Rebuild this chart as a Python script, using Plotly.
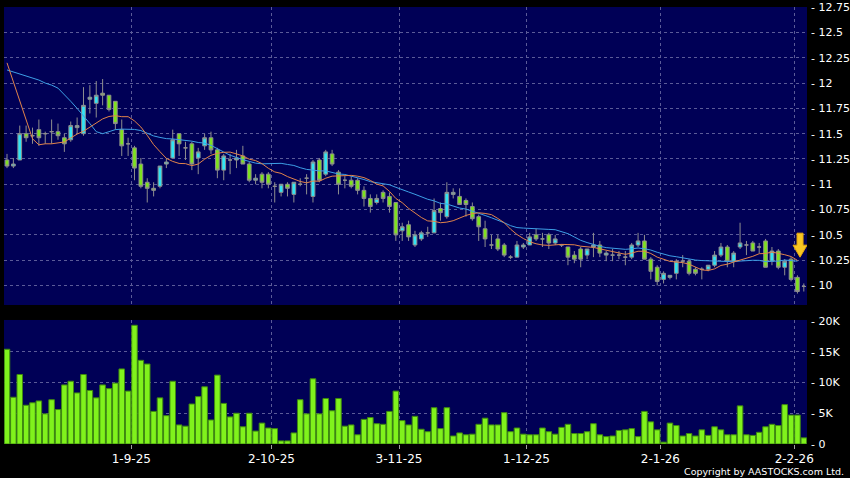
import plotly.graph_objects as go

# ---------------- data ----------------
dates = [
    "2025-08-04", "2025-08-05", "2025-08-06", "2025-08-07", "2025-08-08",
    "2025-08-11", "2025-08-12", "2025-08-13", "2025-08-14", "2025-08-15",
    "2025-08-18", "2025-08-19", "2025-08-20", "2025-08-21", "2025-08-22",
    "2025-08-25", "2025-08-26", "2025-08-27", "2025-08-28", "2025-08-29",
    "2025-09-01", "2025-09-02", "2025-09-03", "2025-09-04", "2025-09-05",
    "2025-09-08", "2025-09-09", "2025-09-10", "2025-09-11", "2025-09-12",
    "2025-09-15", "2025-09-16", "2025-09-17", "2025-09-18", "2025-09-19",
    "2025-09-22", "2025-09-23", "2025-09-24", "2025-09-25", "2025-09-26",
    "2025-09-29", "2025-09-30", "2025-10-02", "2025-10-03", "2025-10-06",
    "2025-10-08", "2025-10-09", "2025-10-10", "2025-10-13", "2025-10-14",
    "2025-10-15", "2025-10-16", "2025-10-17", "2025-10-20", "2025-10-21",
    "2025-10-22", "2025-10-23", "2025-10-24", "2025-10-27", "2025-10-28",
    "2025-10-30", "2025-10-31", "2025-11-03", "2025-11-04", "2025-11-05",
    "2025-11-06", "2025-11-07", "2025-11-10", "2025-11-11", "2025-11-12",
    "2025-11-13", "2025-11-14", "2025-11-17", "2025-11-18", "2025-11-19",
    "2025-11-20", "2025-11-21", "2025-11-24", "2025-11-25", "2025-11-26",
    "2025-11-27", "2025-11-28", "2025-12-01", "2025-12-02", "2025-12-03",
    "2025-12-04", "2025-12-05", "2025-12-08", "2025-12-09", "2025-12-10",
    "2025-12-11", "2025-12-12", "2025-12-15", "2025-12-16", "2025-12-17",
    "2025-12-18", "2025-12-19", "2025-12-22", "2025-12-23", "2025-12-24",
    "2025-12-29", "2025-12-30", "2025-12-31", "2026-01-02", "2026-01-05",
    "2026-01-06", "2026-01-07", "2026-01-08", "2026-01-09", "2026-01-12",
    "2026-01-13", "2026-01-14", "2026-01-15", "2026-01-16", "2026-01-19",
    "2026-01-20", "2026-01-21", "2026-01-22", "2026-01-23", "2026-01-26",
    "2026-01-27", "2026-01-28", "2026-01-29", "2026-01-30", "2026-02-02",
    "2026-02-03",
]

open_ = [
    11.24, 11.18, 11.24, 11.50, 11.48, 11.54, 11.50, 11.52, 11.52, 11.46,
    11.44, 11.56, 11.50, 11.84, 11.80, 11.90, 11.88, 11.82, 11.54, 11.40,
    11.36, 11.20, 11.02, 10.96, 10.98, 11.20, 11.26, 11.50, 11.36, 11.40,
    11.26, 11.38, 11.46, 11.34, 11.14, 11.24, 11.24, 11.28, 11.20, 11.04,
    11.10, 11.10, 10.98, 10.92, 11.00, 10.90, 11.00, 11.06, 10.88, 11.24,
    11.10, 11.30, 11.12, 11.04, 11.04, 11.04, 10.94, 10.86, 10.82, 10.92,
    10.88, 10.82, 10.54, 10.60, 10.40, 10.46, 10.52, 10.52, 10.76, 10.68,
    10.90, 10.88, 10.84, 10.78, 10.68, 10.56, 10.40, 10.46, 10.40, 10.28,
    10.28, 10.38, 10.40, 10.50, 10.46, 10.50, 10.42, 10.40, 10.38, 10.30,
    10.36, 10.30, 10.38, 10.40, 10.30, 10.30, 10.30, 10.28, 10.28, 10.40,
    10.44, 10.26, 10.18, 10.06, 10.08, 10.12, 10.24, 10.24, 10.16, 10.16,
    10.16, 10.20, 10.30, 10.38, 10.24, 10.38, 10.40, 10.42, 10.38, 10.44,
    10.24, 10.34, 10.18, 10.26, 10.08, 9.99,
]
high = [
    11.30, 11.26, 11.58, 11.58, 11.56, 11.64, 11.52, 11.64, 11.60, 11.50,
    11.62, 11.66, 11.96, 11.98, 12.02, 12.04, 11.88, 11.82, 11.64, 11.46,
    11.38, 11.26, 11.06, 11.02, 11.18, 11.26, 11.54, 11.50, 11.42, 11.42,
    11.36, 11.50, 11.52, 11.36, 11.30, 11.30, 11.34, 11.38, 11.22, 11.10,
    11.12, 11.12, 11.02, 11.00, 11.02, 11.02, 11.06, 11.10, 11.24, 11.26,
    11.34, 11.34, 11.14, 11.08, 11.08, 11.06, 10.98, 10.90, 10.90, 10.94,
    10.92, 10.82, 10.62, 10.64, 10.54, 10.54, 10.58, 10.86, 10.82, 11.02,
    10.96, 10.96, 10.86, 10.82, 10.70, 10.64, 10.50, 10.50, 10.42, 10.30,
    10.44, 10.42, 10.52, 10.56, 10.52, 10.52, 10.50, 10.40, 10.38, 10.34,
    10.38, 10.36, 10.52, 10.44, 10.34, 10.36, 10.34, 10.34, 10.42, 10.52,
    10.50, 10.28, 10.20, 10.14, 10.10, 10.26, 10.30, 10.26, 10.18, 10.18,
    10.20, 10.34, 10.42, 10.40, 10.34, 10.62, 10.44, 10.44, 10.42, 10.46,
    10.38, 10.36, 10.26, 10.28, 10.10, 10.02,
]
low = [
    11.16, 11.16, 11.24, 11.42, 11.40, 11.38, 11.40, 11.40, 11.44, 11.32,
    11.42, 11.50, 11.48, 11.70, 11.66, 11.78, 11.72, 11.54, 11.28, 11.28,
    11.04, 10.96, 10.82, 10.88, 10.96, 11.16, 11.26, 11.28, 11.24, 11.14,
    11.10, 11.34, 11.30, 11.06, 11.04, 11.10, 11.16, 11.20, 11.02, 11.00,
    10.96, 10.96, 10.82, 10.88, 10.88, 10.82, 10.98, 10.90, 10.82, 11.02,
    11.08, 11.18, 10.90, 10.96, 10.96, 10.90, 10.78, 10.72, 10.80, 10.82,
    10.72, 10.44, 10.44, 10.44, 10.38, 10.44, 10.48, 10.52, 10.64, 10.66,
    10.86, 10.80, 10.68, 10.64, 10.44, 10.38, 10.36, 10.34, 10.28, 10.26,
    10.28, 10.36, 10.40, 10.44, 10.38, 10.36, 10.40, 10.38, 10.20, 10.22,
    10.18, 10.26, 10.28, 10.28, 10.24, 10.24, 10.26, 10.20, 10.26, 10.38,
    10.26, 10.06, 10.00, 10.02, 10.06, 10.06, 10.18, 10.10, 10.10, 10.06,
    10.14, 10.18, 10.28, 10.18, 10.18, 10.36, 10.30, 10.34, 10.32, 10.18,
    10.20, 10.16, 10.10, 10.04, 9.92, 9.94,
]
close = [
    11.18, 11.20, 11.50, 11.46, 11.48, 11.46, 11.50, 11.52, 11.48, 11.40,
    11.58, 11.58, 11.78, 11.86, 11.88, 11.88, 11.74, 11.60, 11.38, 11.40,
    11.16, 10.98, 10.96, 10.94, 11.18, 11.22, 11.44, 11.40, 11.36, 11.20,
    11.32, 11.46, 11.34, 11.14, 11.28, 11.24, 11.26, 11.20, 11.04, 11.06,
    11.02, 11.00, 10.98, 11.00, 10.96, 11.02, 11.00, 11.06, 11.22, 11.04,
    11.32, 11.20, 11.00, 11.04, 10.98, 10.94, 10.86, 10.78, 10.86, 10.86,
    10.78, 10.50, 10.58, 10.48, 10.50, 10.52, 10.52, 10.74, 10.72, 10.92,
    10.92, 10.80, 10.80, 10.66, 10.58, 10.46, 10.40, 10.36, 10.30, 10.28,
    10.40, 10.40, 10.48, 10.46, 10.46, 10.42, 10.46, 10.40, 10.28, 10.26,
    10.26, 10.36, 10.40, 10.32, 10.32, 10.30, 10.30, 10.28, 10.40, 10.44,
    10.26, 10.14, 10.04, 10.12, 10.10, 10.24, 10.24, 10.12, 10.12, 10.16,
    10.20, 10.30, 10.38, 10.24, 10.32, 10.42, 10.40, 10.34, 10.38, 10.18,
    10.34, 10.18, 10.24, 10.06, 9.94, 9.99,
]

# 10-day and 20-day moving averages as drawn on the chart (last day has none)
ma10 = [
    12.20, 12.01, 11.83, 11.64, 11.45, 11.39, 11.40, 11.40, 11.41,
    11.418, 11.458, 11.496, 11.524, 11.564, 11.604, 11.646, 11.670, 11.678, 11.668, 11.668,
    11.626, 11.566, 11.484, 11.392, 11.322, 11.256, 11.226, 11.206, 11.204, 11.184,
    11.200, 11.248, 11.286, 11.306, 11.316, 11.318, 11.300, 11.280, 11.248, 11.234,
    11.204, 11.158, 11.122, 11.108, 11.076, 11.054, 11.028, 11.014, 11.032, 11.030,
    11.060, 11.080, 11.082, 11.086, 11.088, 11.080, 11.066, 11.038, 11.002, 10.984,
    10.930, 10.860, 10.818, 10.762, 10.714, 10.672, 10.638, 10.634, 10.620, 10.626,
    10.640, 10.670, 10.692, 10.710, 10.718, 10.712, 10.700, 10.662, 10.620, 10.556,
    10.504, 10.464, 10.432, 10.412, 10.400, 10.396, 10.402, 10.406, 10.404, 10.402,
    10.388, 10.384, 10.376, 10.362, 10.348, 10.336, 10.320, 10.308, 10.320, 10.338,
    10.338, 10.316, 10.280, 10.260, 10.238, 10.232, 10.226, 10.210, 10.182, 10.154,
    10.148, 10.164, 10.198, 10.210, 10.232, 10.250, 10.266, 10.288, 10.314, 10.316,
    10.330, 10.318, 10.304, 10.286, 10.248,
]
ma20 = [
    12.13, 12.11, 12.09, 12.07, 12.05, 12.03, 12.00, 11.98, 11.95, 11.89,
    11.82, 11.75, 11.68, 11.60, 11.52, 11.50, 11.52, 11.54, 11.545, 11.543,
    11.542, 11.531, 11.504, 11.478, 11.463, 11.451, 11.448, 11.442, 11.436, 11.426,
    11.413, 11.407, 11.385, 11.349, 11.319, 11.287, 11.263, 11.243, 11.226, 11.209,
    11.202, 11.203, 11.204, 11.207, 11.196, 11.186, 11.164, 11.147, 11.140, 11.132,
    11.132, 11.119, 11.102, 11.097, 11.082, 11.067, 11.047, 11.026, 11.017, 11.007,
    10.995, 10.970, 10.950, 10.924, 10.901, 10.876, 10.852, 10.836, 10.811, 10.805,
    10.785, 10.765, 10.755, 10.736, 10.716, 10.692, 10.669, 10.648, 10.620, 10.591,
    10.572, 10.567, 10.562, 10.561, 10.559, 10.554, 10.551, 10.534, 10.512, 10.479,
    10.446, 10.424, 10.404, 10.387, 10.374, 10.366, 10.361, 10.357, 10.362, 10.370,
    10.363, 10.350, 10.328, 10.311, 10.293, 10.284, 10.273, 10.259, 10.251, 10.246,
    10.243, 10.240, 10.239, 10.235, 10.235, 10.241, 10.246, 10.249, 10.248, 10.235,
    10.239, 10.241, 10.251, 10.248, 10.240,
]

volume = [
    15400, 7600, 11300, 6300, 6700, 7000, 4900, 7200, 5600, 9600,
    10200, 8300, 11300, 8700, 7500, 9600, 9000, 9900, 12200, 8600,
    19300, 13600, 13000, 5300, 7500, 4600, 10200, 3100, 2900, 6500,
    7700, 9300, 3900, 11200, 6600, 4400, 5000, 2800, 5000, 2100,
    3400, 2600, 2500, 500, 500, 1800, 7200, 4900, 10600, 4900,
    7400, 5400, 7400, 2900, 3100, 1500, 4000, 4300, 3300, 3200,
    5300, 8600, 3800, 3100, 4500, 2400, 2000, 5900, 2500, 5900,
    1300, 1800, 1500, 1600, 3200, 4200, 3100, 3100, 5100, 2000,
    2600, 1600, 1500, 1500, 2600, 2000, 1600, 2700, 3200, 1700,
    1700, 2000, 3300, 1500, 1200, 1300, 2200, 2300, 2500, 1200,
    5300, 3600, 2300, 300, 3400, 3000, 1300, 1700, 1300, 2300,
    1400, 2800, 2300, 1500, 1500, 6200, 1500, 1400, 1900, 2800,
    3200, 3000, 6400, 4700, 4700, 1000,
]

month_start_dates = ["2025-09-01", "2025-10-02", "2025-11-03",
                     "2025-12-01", "2026-01-02", "2026-02-02"]
month_labels = ["1-9-25", "2-10-25", "3-11-25", "1-12-25", "2-1-26", "2-2-26"]

price_ticks = [10, 10.25, 10.5, 10.75, 11, 11.25, 11.5, 11.75,
               12, 12.25, 12.5, 12.75]
price_tick_labels = ["10", "10.25", "10.5", "10.75", "11", "11.25", "11.5",
                     "11.75", "12", "12.25", "12.5", "12.75"]
vol_ticks = [0, 5000, 10000, 15000, 20000]
vol_tick_labels = ["0", "5K", "10K", "15K", "20K"]

# ---------------- figure ----------------
idx = list(range(len(dates)))
grid_pos = [dates.index(d) - 0.5 for d in month_start_dates]
ma_x = idx[:len(ma10)]

BG = "#000056"
GRID = "#5b5b98"
TXT = "#ffffff"
FONT = "DejaVu Sans"

fig = go.Figure()

fig.add_trace(go.Candlestick(
    x=idx, open=open_, high=high, low=low, close=close,
    xaxis="x", yaxis="y",
    increasing=dict(fillcolor="#30e4f4", line=dict(color="#8e8e8e", width=1)),
    decreasing=dict(fillcolor="#7ee21e", line=dict(color="#8e8e8e", width=1)),
    whiskerwidth=0, hoverinfo="skip", text=dates,
))
fig.add_trace(go.Scatter(
    x=ma_x, y=ma20, mode="lines", xaxis="x", yaxis="y",
    line=dict(color="#3d9fe6", width=1), hoverinfo="skip",
))
fig.add_trace(go.Scatter(
    x=ma_x, y=ma10, mode="lines", xaxis="x", yaxis="y",
    line=dict(color="#e3844a", width=1), hoverinfo="skip",
))
fig.add_trace(go.Bar(
    x=idx, y=volume, xaxis="x2", yaxis="y2",
    marker=dict(color="#80f21c", line=dict(color="#3f8a10", width=1)),
    hoverinfo="skip",
))

xr = [-0.47, 125.5]
common_grid = dict(showgrid=True, gridcolor=GRID, gridwidth=1, griddash="3px,3px",
                   zeroline=False, showline=False, automargin=False)

fig.update_layout(
    width=850, height=478,
    margin=dict(l=4, r=43, t=7, b=34, autoexpand=False),
    paper_bgcolor="#000000", plot_bgcolor=BG,
    showlegend=False,
    boxgap=0.17, bargap=0.13,
    font=dict(family=FONT, color=TXT),
    xaxis=dict(domain=[0, 1], anchor="y", range=xr, tickmode="array",
               tickvals=grid_pos, showticklabels=False, ticks="",
               rangeslider=dict(visible=False), **common_grid),
    yaxis=dict(domain=[0.3181, 1], anchor="x", range=[9.807, 12.752],
               side="right", tickmode="array", tickvals=price_ticks,
               ticktext=["- " + t for t in price_tick_labels],
               ticks="", ticklabelstandoff=3,
               tickfont=dict(family=FONT, size=11, color=TXT), **common_grid),
    xaxis2=dict(domain=[0, 1], anchor="y2", range=xr, tickmode="array",
                tickvals=grid_pos, ticktext=month_labels,
                ticks="outside", ticklen=4, tickcolor="#a0a0a0",
                tickfont=dict(family=FONT, size=12, color=TXT), **common_grid),
    yaxis2=dict(domain=[0, 0.2838], anchor="x2", range=[0, 20160],
                side="right", tickmode="array", tickvals=vol_ticks,
                ticktext=["- " + t for t in vol_tick_labels],
                ticks="", ticklabelstandoff=3,
                tickfont=dict(family=FONT, size=11, color=TXT), **common_grid),
)

# yellow marker arrow pointing at the latest moving-average value
fig.add_shape(
    type="path", xref="x", yref="y",
    xsizemode="pixel", ysizemode="pixel",
    xanchor=ma_x[-1], yanchor=ma20[-1],
    path="M 2.6 4 L 9.6 16 L 5.6 16 L 5.6 28 L -0.4 28 L -0.4 16 L -4.4 16 Z",
    fillcolor="#f7c623", line=dict(color="#e8a90c", width=1),
)

fig.add_annotation(
    text="Copyright by AASTOCKS.com Ltd.", xref="paper", yref="paper",
    x=1.0486, y=-0.064, xanchor="right", yanchor="middle", showarrow=False,
    font=dict(family=FONT, size=9.5, color=TXT),
)

fig.write_html(
    "out.html",
    config={"displayModeBar": False},
    post_script="document.body.style.margin='0';document.body.style.background='#000';",
)
